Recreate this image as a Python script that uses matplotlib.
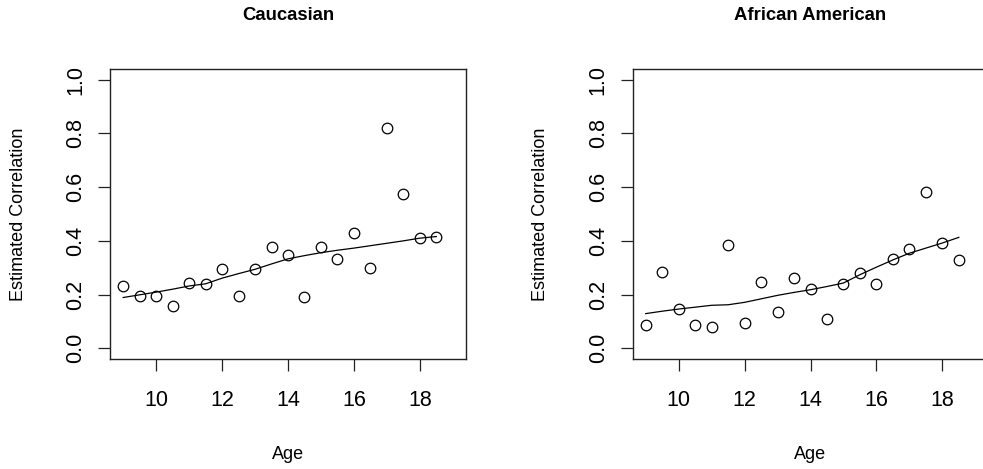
import numpy as np
import matplotlib
matplotlib.use("Agg")
import matplotlib.pyplot as plt

plt.rcParams['font.family'] = ['Liberation Sans', 'DejaVu Sans']

# ages at which correlations were estimated
age = np.arange(9, 19, 0.5)

titles = ["Caucasian", "African American"]

# estimated correlations (points)
cauc_corr = [0.232, 0.196, 0.196, 0.159, 0.243, 0.240, 0.296, 0.196, 0.294, 0.378,
             0.349, 0.190, 0.378, 0.332, 0.430, 0.298, 0.820, 0.575, 0.411, 0.414]
afam_corr = [0.085, 0.283, 0.146, 0.087, 0.078, 0.384, 0.094, 0.245, 0.134, 0.261,
             0.219, 0.109, 0.241, 0.282, 0.241, 0.334, 0.369, 0.583, 0.392, 0.329]

# smoothed curves
cauc_fit = [0.189, 0.199, 0.209, 0.220, 0.232, 0.240, 0.261, 0.278, 0.294, 0.314,
            0.333, 0.345, 0.356, 0.365, 0.373, 0.382, 0.391, 0.400, 0.410, 0.416]
afam_fit = [0.129, 0.138, 0.146, 0.153, 0.160, 0.162, 0.171, 0.184, 0.197, 0.208,
            0.218, 0.230, 0.243, 0.274, 0.302, 0.329, 0.354, 0.373, 0.392, 0.413]

W, H = 983, 469
fig = plt.figure(figsize=(W / 100, H / 100), dpi=100)

# axes boxes in pixels: (left, top, right, bottom); the right one runs off the edge
boxes = [(110, 69, 466, 359), (632.5, 69, 988.5, 359)]

for (l, t, r, b), title, corr, fit in zip(boxes, titles,
                                          [cauc_corr, afam_corr], [cauc_fit, afam_fit]):
    ax = fig.add_axes([l / W, (H - b) / H, (r - l) / W, (b - t) / H])
    ax.plot(age, corr, 'o', mfc='none', mec='black', ms=7.6, mew=0.9, clip_on=False)
    ax.plot(age, fit, '-', color='black', lw=0.9)

    # R style: 4% padding around xlim=c(9,19), ylim=c(0,1)
    ax.set_xlim(9 - 0.4, 19 + 0.4)
    ax.set_ylim(-0.04, 1.04)
    ax.set_xticks([10, 12, 14, 16, 18])
    ax.set_yticks([0.0, 0.2, 0.4, 0.6, 0.8, 1.0])
    ax.set_yticklabels(["0.0", "0.2", "0.4", "0.6", "0.8", "1.0"])
    for s in ax.spines.values():
        s.set_linewidth(1.0)
        s.set_color('#222222')
    ax.tick_params(axis='both', direction='out', length=8.6, width=0.9,
                   color='#222222', labelsize=15.5)
    ax.tick_params(axis='x', pad=13.5)
    ax.tick_params(axis='y', pad=8.5, labelrotation=90)
    for lab in ax.get_yticklabels():
        lab.set_va('center')

    ax.text(0.5, 1.186, title, transform=ax.transAxes, ha='center', va='center',
            fontsize=13.3, fontweight='bold')
    ax.text(0.5, -0.331, "Age", transform=ax.transAxes, ha='center', va='center',
            fontsize=13)
    ax.text(-0.2576, 0.5, "Estimated Correlation", transform=ax.transAxes,
            ha='center', va='center', rotation=90, fontsize=13)

fig.savefig("out.png", dpi=100, facecolor='white')
